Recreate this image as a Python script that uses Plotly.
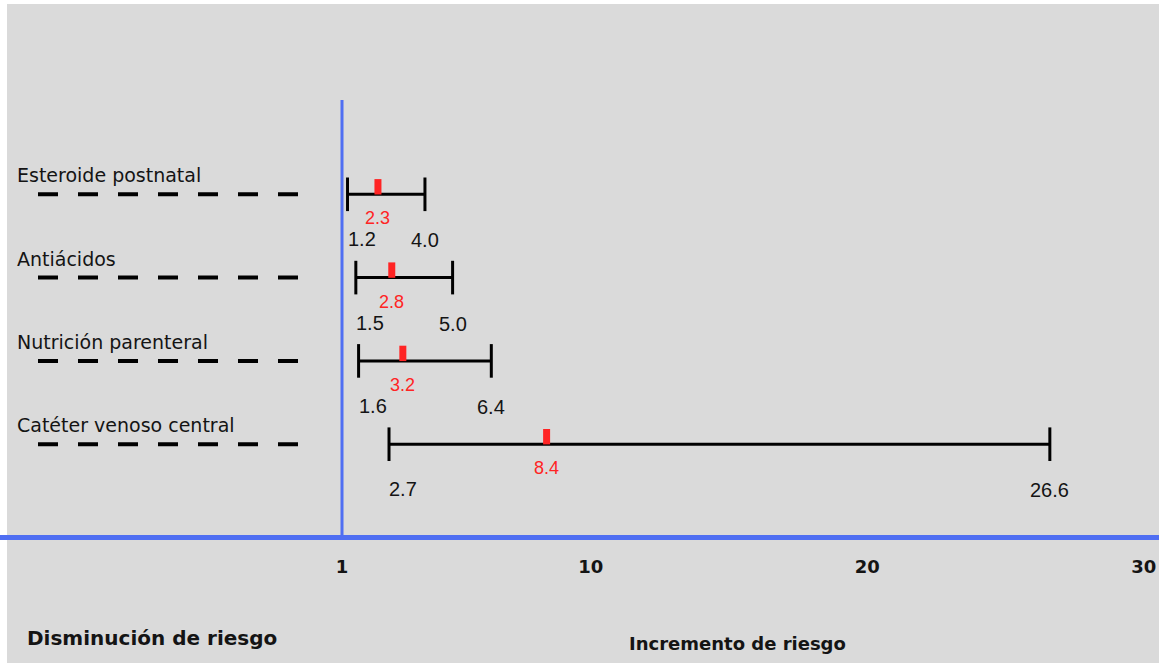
import plotly.graph_objects as go

# ---- data ----
factors = ["Esteroide postnatal", "Antiácidos", "Nutrición parenteral", "Catéter venoso central"]
or_values = [2.3, 2.8, 3.2, 8.4]
ci_low = [1.2, 1.5, 1.6, 2.7]
ci_high = [4.0, 5.0, 6.4, 26.6]
tick_values = [1, 10, 20, 30]
tick_text = ["1", "10", "20", "30"]
left_label = "Disminución de riesgo"
right_label = "Incremento de riesgo"

# ---- layout geometry ----
W, H = 1159, 663
B = 128
PH = H - B
PX_PER_ROW = 83.3
ROW0_PX = 194.3
y_top = -ROW0_PX / PX_PER_ROW
y_bot = y_top + PH / PX_PER_ROW

PX_PER_UNIT = 27.65
X_ONE_PX = 342
x_lo = 1 - X_ONE_PX / PX_PER_UNIT
x_hi = x_lo + W / PX_PER_UNIT


def dy(px):
    return px / PX_PER_ROW


BG = "#dadada"
BLUE = "#4f6ef2"
RED = "#ff2424"
DARK = "#141414"

fig = go.Figure()
shapes = []
annotations = []

for i, name in enumerate(factors):
    # CI line
    fig.add_trace(go.Scatter(
        x=[ci_low[i], ci_high[i]], y=[i, i], mode="lines+markers",
        line=dict(color="black", width=3),
        marker=dict(symbol="line-ns", size=24, line=dict(color="black", width=3)),
        showlegend=False, hoverinfo="skip"))
    # point estimate
    fig.add_trace(go.Scatter(
        x=[or_values[i]], y=[i - dy(7.5)], mode="markers",
        marker=dict(symbol="line-ns", size=11, line=dict(color=RED, width=7)),
        showlegend=False, hoverinfo="skip"))
    # dashed guide line
    shapes.append(dict(type="line", xref="paper", yref="y",
                       x0=38 / W, x1=298 / W, y0=i, y1=i,
                       line=dict(color="black", width=4, dash="20px,20px")))
    # row label
    annotations.append(dict(text=name, xref="paper", yref="y", x=15 / W, y=i - dy(19),
                            xanchor="left", yanchor="middle", showarrow=False,
                            font=dict(family="DejaVu Sans", size=19, color=DARK)))
    # value labels
    annotations.append(dict(text=f"{or_values[i]:.1f}", x=or_values[i], y=i + dy(24),
                            xanchor="center", yanchor="middle", showarrow=False,
                            font=dict(family="Liberation Sans, Arial", size=18, color=RED)))
    annotations.append(dict(text=f"{ci_low[i]:.1f}", x=ci_low[i], y=i + dy(45),
                            xanchor="left", yanchor="middle", showarrow=False, xshift=-2,
                            font=dict(family="Liberation Sans, Arial", size=20, color=DARK)))
    annotations.append(dict(text=f"{ci_high[i]:.1f}", x=ci_high[i], y=i + dy(46),
                            xanchor="center", yanchor="middle", showarrow=False,
                            font=dict(family="Liberation Sans, Arial", size=20, color=DARK)))

# vertical reference line at 1
shapes.append(dict(type="line", xref="x", yref="paper", x0=1, x1=1, y0=0, y1=1 - 100 / PH,
                   line=dict(color=BLUE, width=3)))
# white borders of the original picture
shapes.append(dict(type="rect", xref="paper", yref="paper", x0=0, x1=7 / W, y0=-B / PH, y1=1,
                   fillcolor="white", line=dict(width=0), layer="below"))
shapes.append(dict(type="rect", xref="paper", yref="paper", x0=0, x1=1, y0=1 - 4 / PH, y1=1,
                   fillcolor="white", line=dict(width=0), layer="below"))

annotations.append(dict(text=left_label, xref="paper", yref="paper", x=25 / W, y=-(638 - PH) / PH,
                        xanchor="left", yanchor="middle", showarrow=False,
                        font=dict(family="DejaVu Sans", size=20, color=DARK, weight="bold")))
annotations.append(dict(text=right_label, xref="paper", yref="paper", x=737 / W, y=-(643 - PH) / PH,
                        xanchor="center", yanchor="middle", showarrow=False,
                        font=dict(family="DejaVu Sans", size=18, color=DARK, weight="bold")))

fig.update_layout(
    width=W, height=H,
    margin=dict(l=0, r=0, t=0, b=B),
    paper_bgcolor=BG, plot_bgcolor=BG,
    shapes=shapes, annotations=annotations,
    xaxis=dict(range=[x_lo, x_hi], tickvals=tick_values, ticktext=tick_text,
               showgrid=False, zeroline=False, showline=True, linecolor=BLUE, linewidth=5,
               ticks="", ticklabelstandoff=11,
               tickfont=dict(family="DejaVu Sans", size=18, color=DARK, weight="bold")),
    yaxis=dict(range=[y_bot, y_top], showgrid=False, zeroline=False, showline=False,
               showticklabels=False, ticks=""),
)

fig.write_html("out.html")
